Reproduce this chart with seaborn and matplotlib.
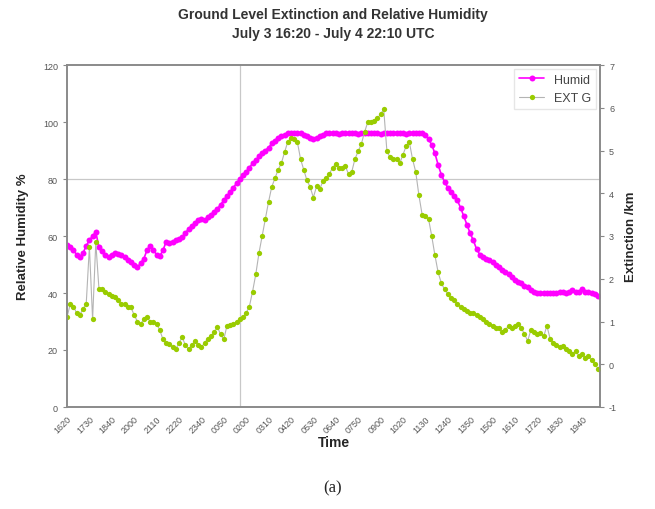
import numpy as np
import matplotlib
matplotlib.use('Agg')
import matplotlib.pyplot as plt
import seaborn as sns

# Werte (ein Punkt je Messung, Kategorieachse)
humid = [57, 56, 55, 53.5, 52.6, 54, 56.5, 58.5, 60, 61.4,
         56, 54.7, 53.5, 52.6, 53.5, 54, 53.7, 53.5, 52.5, 51.5,
         51, 50, 49, 50.5, 52, 55, 56.5, 55, 53.5, 53,
         55, 58, 57.5, 58, 58.5, 59, 59.5, 61, 62.5, 63.5,
         64.5, 65.5, 66, 65.5, 66.5, 67.5, 68.5, 69.5, 71, 72.5,
         74, 75.5, 77, 78.5, 80, 81.5, 82.5, 84, 85.5, 86.5,
         88, 89, 90, 91, 92.5, 93.5, 94.5, 95, 95.5, 96,
         96, 96, 96, 96, 95.5, 95, 94.5, 94, 94.5, 95,
         95.5, 96, 96, 96.2, 96, 95.8, 96, 96, 96.2, 96,
         96, 95.8, 96, 96, 96, 96.2, 96, 96, 95.8, 96,
         96, 96, 96.2, 96, 96, 96, 95.8, 96, 96, 96.2,
         96, 96, 95.5, 94, 92, 89, 85, 81.5, 79, 77,
         75.5, 74, 72.5, 70, 67, 64, 61, 58.5, 55.5, 53.5,
         52.5, 52, 51.5, 51, 50, 49, 48, 47.5, 46.5, 45.5,
         44.5, 44, 43.5, 42.5, 42, 41, 40.5, 40, 40, 40,
         40, 40, 40, 40, 40.5, 40.5, 40, 40.5, 41, 40.5,
         40.5, 41.5, 40.5, 40.5, 40, 39.5, 39]

ext_g = [1.1, 1.4, 1.35, 1.2, 1.15, 1.3, 1.4, 2.75, 1.05, 2.85,
         1.75, 1.75, 1.7, 1.64, 1.6, 1.57, 1.5, 1.42, 1.4, 1.35,
         1.33, 1.15, 1.0, 0.94, 1.05, 1.1, 1.0, 1.0, 0.95, 0.8,
         0.58, 0.5, 0.47, 0.4, 0.35, 0.5, 0.63, 0.45, 0.35, 0.45,
         0.54, 0.45, 0.4, 0.5, 0.6, 0.65, 0.75, 0.87, 0.7, 0.58,
         0.9, 0.92, 0.94, 1.0, 1.05, 1.1, 1.2, 1.35, 1.7, 2.1,
         2.6, 3.0, 3.4, 3.8, 4.15, 4.35, 4.55, 4.7, 4.96, 5.2,
         5.3, 5.26, 5.2, 4.8, 4.55, 4.3, 4.15, 3.9, 4.16, 4.1,
         4.28, 4.35, 4.45, 4.6, 4.68, 4.58, 4.6, 4.63, 4.45, 4.5,
         4.8, 4.98, 5.15, 5.43, 5.66, 5.66, 5.68, 5.75, 5.85, 5.96,
         4.98, 4.84, 4.8, 4.8, 4.7, 4.9, 5.1, 5.2, 4.8, 4.5,
         3.95, 3.5, 3.46, 3.4, 3.0, 2.55, 2.15, 1.9, 1.75, 1.65,
         1.55, 1.5, 1.4, 1.35, 1.3, 1.25, 1.2, 1.2, 1.15, 1.1,
         1.05, 1.0, 0.95, 0.9, 0.85, 0.85, 0.75, 0.8, 0.9, 0.85,
         0.9, 0.95, 0.85, 0.7, 0.55, 0.8, 0.75, 0.7, 0.72, 0.65,
         0.9, 0.6, 0.5, 0.45, 0.4, 0.42, 0.35, 0.3, 0.25, 0.3,
         0.2, 0.25, 0.15, 0.2, 0.1, 0.0, -0.1]

time_labels = ['1620', '1730', '1840', '2000', '2110', '2220', '2340', '0050',
               '0200', '0310', '0420', '0530', '0640', '0750', '0900', '1020',
               '1130', '1240', '1350', '1500', '1610', '1720', '1830', '1940']

idx = np.arange(len(humid))

sns.set_style('white')
plt.rcParams['font.family'] = ['Liberation Sans', 'DejaVu Sans']
plt.rcParams['axes.unicode_minus'] = False

fig = plt.figure(figsize=(6.55, 5.10), dpi=100)
ax = fig.add_axes([67 / 655, 1 - 408 / 510, 533 / 655, 342 / 510])
ax2 = ax.twinx()

# Hilfslinien
ax.axhline(80, color='#c8c8c8', lw=0.9, zorder=0)
ax.axvline(54, color='#c8c8c8', lw=0.9, zorder=0)

sns.lineplot(x=idx, y=humid, ax=ax, color='#ff00ff', lw=1.2, marker='o',
             markersize=4.3, markeredgewidth=0, label='Humid', legend=False)
sns.lineplot(x=idx, y=ext_g, ax=ax2, color='#b4b4b4', lw=0.8, marker='o',
             markersize=3.8, markeredgewidth=0, markerfacecolor='#99cc00',
             label='EXT G', legend=False)

ax.set_xlim(0, 166.6)
ax.set_ylim(0, 120)
ax2.set_ylim(-1, 7)
ax.set_yticks(range(0, 121, 20))
ax2.set_yticks(range(-1, 8))

ax.set_xticks(idx[::7][:len(time_labels)])
ax.set_xticklabels(time_labels, rotation=45, ha='right', rotation_mode='anchor')

for a in (ax, ax2):
    a.tick_params(labelsize=6.5, labelcolor='#555555', color='#888888',
                  length=3, width=0.8, direction='out')
    for s in a.spines.values():
        s.set_color('#8a8a8a')
        s.set_linewidth(1.2)
ax.tick_params(axis='x', pad=2)

ax.set_xlabel('Time', fontsize=10, fontweight='bold', labelpad=0)
ax.set_ylabel('Relative Humidity %', fontsize=9.5, fontweight='bold', labelpad=10)
ax2.set_ylabel('Extinction /km', fontsize=9.5, fontweight='bold', labelpad=6)

h1, l1 = ax.get_legend_handles_labels()
h2, l2 = ax2.get_legend_handles_labels()
leg = ax2.legend(h1 + h2, l1 + l2, loc='upper right', fontsize=9,
                 frameon=True, fancybox=False, edgecolor='#e0e0e0',
                 borderaxespad=0.3, handlelength=2.0, labelcolor='#444444')

fig.text(333 / 655, 1 - 15 / 510, 'Ground Level Extinction and Relative Humidity',
         ha='center', va='center', fontsize=10, fontweight='bold', color='#333333')
fig.text(333 / 655, 1 - 34 / 510, 'July 3 16:20 - July 4 22:10 UTC',
         ha='center', va='center', fontsize=10, fontweight='bold', color='#333333')
fig.text(333 / 655, 1 - 488 / 510, '(a)', ha='center', va='center',
         fontsize=12, family=['Liberation Serif', 'DejaVu Serif'])

fig.savefig('out.png', dpi=100)
